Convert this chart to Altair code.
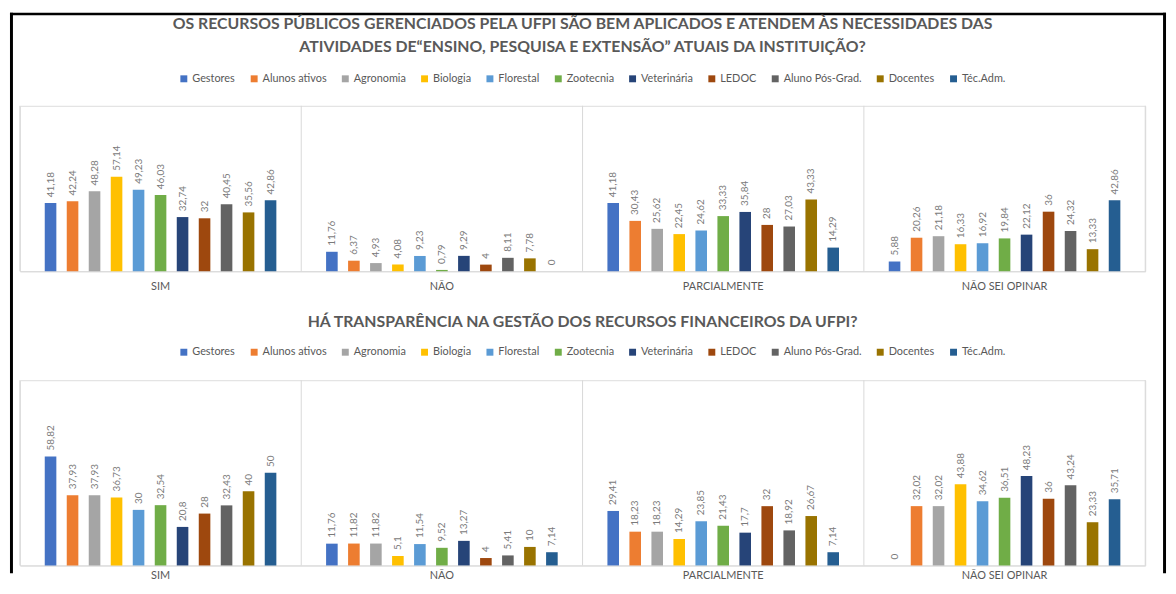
import altair as alt
import pandas as pd

series = ["Gestores", "Alunos ativos", "Agronomia", "Biologia", "Florestal", "Zootecnia",
          "Veterinária", "LEDOC", "Aluno Pós-Grad.", "Docentes", "Téc.Adm."]
colors = ["#4472C4", "#ED7D31", "#A5A5A5", "#FFC000", "#5B9BD5", "#70AD47",
          "#264478", "#9E480E", "#636363", "#997300", "#255E91"]
categories = ["SIM", "NÃO", "PARCIALMENTE", "NÃO SEI OPINAR"]

# Pergunta 1
q1_sim = [41.18, 42.24, 48.28, 57.14, 49.23, 46.03, 32.74, 32, 40.45, 35.56, 42.86]
q1_nao = [11.76, 6.37, 4.93, 4.08, 9.23, 0.79, 9.29, 4, 8.11, 7.78, 0]
q1_parc = [41.18, 30.43, 25.62, 22.45, 24.62, 33.33, 35.84, 28, 27.03, 43.33, 14.29]
q1_nsei = [5.88, 20.26, 21.18, 16.33, 16.92, 19.84, 22.12, 36, 24.32, 13.33, 42.86]

# Pergunta 2
q2_sim = [58.82, 37.93, 37.93, 36.73, 30, 32.54, 20.8, 28, 32.43, 40, 50]
q2_nao = [11.76, 11.82, 11.82, 5.1, 11.54, 9.52, 13.27, 4, 5.41, 10, 7.14]
q2_parc = [29.41, 18.23, 18.23, 14.29, 23.85, 21.43, 17.7, 32, 18.92, 26.67, 7.14]
q2_nsei = [0, 32.02, 32.02, 43.88, 34.62, 36.51, 48.23, 36, 43.24, 23.33, 35.71]

title1 = ["OS RECURSOS PÚBLICOS GERENCIADOS PELA UFPI SÃO BEM APLICADOS E ATENDEM ÀS NECESSIDADES DAS",
          "ATIVIDADES DE“ENSINO, PESQUISA E EXTENSÃO” ATUAIS DA INSTITUIÇÃO?"]
title2 = "HÁ TRANSPARÊNCIA NA GESTÃO DOS RECURSOS FINANCEIROS DA UFPI?"

W = 1136
H1 = 167
H2 = 187
GRAY = "#595959"
LINE = "#d9d9d9"


def make_df(rows):
    recs = []
    for cat, vals in zip(categories, rows):
        for s, v in zip(series, vals):
            recs.append({"cat": cat, "serie": s, "valor": v,
                         "rotulo": f"{v:g}".replace(".", ",")})
    return pd.DataFrame(recs)


def panel(df, H, title, title_offset, legend_y, label_pad, border=False):
    axis = alt.Axis(title=None, ticks=False, grid=False, labelAngle=0, labelFont="Lato",
                    labelFontSize=11, labelColor=GRAY, labelPadding=label_pad,
                    domainColor=LINE, domainWidth=1)
    xscale = alt.Scale(paddingInner=0, paddingOuter=0)
    xenc = alt.X("cat:N", sort=categories, scale=xscale, axis=axis)
    xoff = alt.XOffset("serie:N", sort=series,
                       scale=alt.Scale(paddingInner=0.473, paddingOuter=0, range=[25.1, 258.9]))
    yenc = alt.Y("valor:Q", scale=alt.Scale(domain=[0, 100], nice=False), axis=None)
    color = alt.Color("serie:N", sort=series,
                      scale=alt.Scale(domain=series, range=colors),
                      legend=alt.Legend(orient="none", legendX=160, legendY=legend_y,
                                        direction="horizontal", columns=11, title=None,
                                        symbolType="square", symbolSize=49,
                                        symbolStrokeWidth=0, labelFont="Lato",
                                        labelFontSize=11, labelColor=GRAY,
                                        columnPadding=13, labelOffset=3))
    bars = alt.Chart(df).mark_bar().encode(x=xenc, xOffset=xoff, y=yenc, color=color)
    labels = alt.Chart(df).mark_text(angle=270, align="left", baseline="middle", dx=6,
                                     font="Lato", fontSize=10, color="#7a7a7a").encode(
        x=xenc, xOffset=xoff, y=yenc, text="rotulo:N")
    seps = alt.Chart(pd.DataFrame({"cat": categories})).mark_rule(
        color=LINE, strokeWidth=1).encode(
        x=alt.X("cat:N", sort=categories, scale=xscale, axis=axis, bandPosition=0),
        y=alt.value(0), y2=alt.value(H))
    one = pd.DataFrame({"k": [0]})
    end = alt.Chart(one).mark_rule(color=LINE, strokeWidth=1).encode(
        x=alt.value(W), y=alt.value(0), y2=alt.value(H))
    layers = [seps, end, bars, labels]
    if border:
        left = alt.Chart(one).mark_rule(color="black", strokeWidth=3).encode(
            x=alt.value(-8.5), y=alt.value(-94), y2=alt.value(472))
        right = alt.Chart(one).mark_rule(color="black", strokeWidth=3).encode(
            x=alt.value(1155.5), y=alt.value(-94), y2=alt.value(472))
        top = alt.Chart(one).mark_rule(color="black", strokeWidth=2.5).encode(
            y=alt.value(-92.75), x=alt.value(-10), x2=alt.value(1157))
        layers += [left, right, top]
    return alt.layer(*layers).properties(
        width=W, height=H,
        title=alt.TitleParams(text=title, font="Lato", fontSize=16, fontWeight="bold",
                              color=GRAY, anchor="middle", frame="group",
                              lineHeight=23, offset=title_offset))


p1 = panel(make_df([q1_sim, q1_nao, q1_parc, q1_nsei]), H1, title1, -44, -33, 9, border=True)
p2 = panel(make_df([q2_sim, q2_nao, q2_parc, q2_nsei]), H2, title2, 17, -34, 4)

chart = alt.vconcat(p1, p2, spacing=110, bounds="flush").resolve_scale(
    color="independent").properties(padding=0).configure_view(stroke=None).configure(
    font="Lato")

chart.save("out.html", embed_options={"renderer": "svg", "actions": False})
